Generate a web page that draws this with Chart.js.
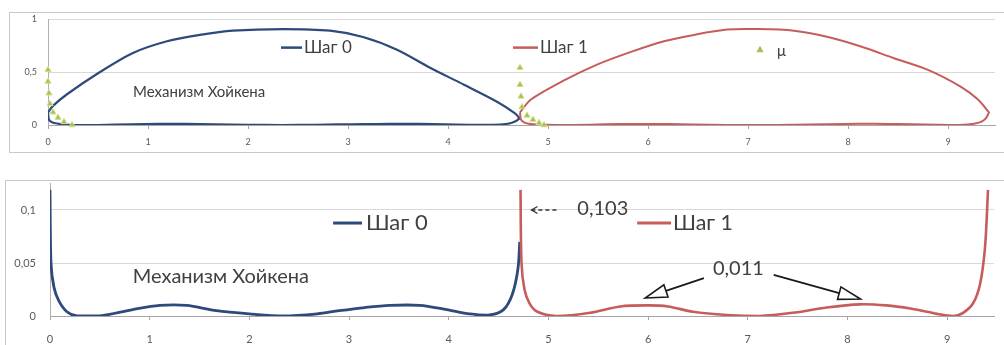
<!DOCTYPE html>
<html>
<head>
<meta charset="utf-8">
<script src="https://cdn.jsdelivr.net/npm/chart.js@4.4.1/dist/chart.umd.min.js"></script>
<style>
  html, body { margin:0; padding:0; background:#fff; width:1004px; height:345px; overflow:hidden; }
  .frame { position:absolute; border:1px solid #c9c9c9; background:#fff; }
  .box { position:absolute; left:0; top:0; }
</style>
</head>
<body>
<div class="frame" style="left:9px; top:12px; width:1000px; height:139px;">
  <div class="box" style="width:994px; height:139px;"><canvas id="c1"></canvas></div>
</div>
<div class="frame" style="left:5px; top:180px; width:1005px; height:170px;">
  <div class="box" style="width:998px; height:164px;"><canvas id="c2"></canvas></div>
</div>
<script>
// ---------- DATA ----------
const seriesNames = ['Шаг 0', 'Шаг 1', 'μ'];
const xTickValues = [0, 1, 2, 3, 4, 5, 6, 7, 8, 9];
const topYTickValues = [0, 0.5, 1];
const topYTickLabels = ['0', '0,5', '1'];
const bottomYTickValues = [0, 0.05, 0.1];
const bottomYTickLabels = ['0', '0,05', '0,1'];

// Lower chart (also the lower branch of each loop in the upper chart)
const step0LowX = [0.00, 0.01, 0.04, 0.09, 0.17, 0.27, 0.50, 0.83, 1.10, 1.37, 1.67, 2.00, 2.34, 2.68, 2.90, 3.16, 3.41, 3.71, 3.98, 4.21, 4.41, 4.55, 4.64, 4.695, 4.712];
const step0LowY = [0.119, 0.050, 0.027, 0.014, 0.004, 0.000, 0.000, 0.006, 0.010, 0.010, 0.005, 0.002, 0.000, 0.002, 0.005, 0.008, 0.010, 0.010, 0.006, 0.002, 0.001, 0.006, 0.021, 0.045, 0.070];
const step1LowX = [4.72, 4.73, 4.76, 4.81, 4.89, 5.08, 5.42, 5.72, 6.00, 6.20, 6.45, 6.79, 7.12, 7.45, 7.79, 8.12, 8.39, 8.63, 8.90, 9.06, 9.16, 9.26, 9.33, 9.38, 9.41];
const step1LowY = [0.119, 0.050, 0.025, 0.012, 0.004, 0.000, 0.003, 0.009, 0.010, 0.009, 0.004, 0.001, 0.000, 0.003, 0.008, 0.011, 0.010, 0.007, 0.002, 0.000, 0.003, 0.012, 0.030, 0.065, 0.119];

// Upper branch of each loop (upper chart)
const step0UpX = [0.00, 0.05, 0.19, 0.52, 0.85, 1.19, 1.52, 1.85, 2.35, 2.82, 3.15, 3.49, 3.82, 4.16, 4.49, 4.67, 4.72];
const step0UpY = [0.119, 0.18, 0.29, 0.50, 0.68, 0.79, 0.85, 0.89, 0.905, 0.89, 0.83, 0.71, 0.54, 0.38, 0.22, 0.11, 0.06];
const step1UpX = [4.72, 4.83, 5.16, 5.49, 5.83, 6.16, 6.46, 6.79, 7.06, 7.46, 7.80, 8.13, 8.46, 8.80, 9.13, 9.30, 9.41];
const step1UpY = [0.119, 0.24, 0.42, 0.57, 0.69, 0.79, 0.85, 0.90, 0.905, 0.89, 0.83, 0.74, 0.63, 0.52, 0.36, 0.24, 0.119];

// μ markers (upper chart)
const muX = [0.00, 0.00, 0.01, 0.02, 0.05, 0.10, 0.16, 0.24, 4.72, 4.72, 4.73, 4.74, 4.79, 4.85, 4.91, 4.96];
const muY = [0.52, 0.41, 0.30, 0.20, 0.12, 0.07, 0.03, 0.00, 0.54, 0.38, 0.27, 0.17, 0.09, 0.05, 0.02, 0.00];

// ---------- HELPERS ----------
const FONT = 'Lato, "Liberation Sans", sans-serif';
const BLUE = '#2e4a7a', RED = '#c65c5c', GREEN = '#a5c05a', TXT = '#404040', TICK = '#595959';
const pts = (xs, ys) => xs.map((x, i) => ({x, y: ys[i]}));
const rev = a => a.slice().reverse();
const loop = (ux, uy, lx, ly) => pts(ux.concat(rev(lx)), uy.concat(rev(ly)));

function setFont(ctx, it) {
  let size = it.size;
  ctx.font = `${size}px ${FONT}`;
  if (it.width) {
    const w = ctx.measureText(it.text).width;
    size = Math.min(size * it.width / w, it.maxSize || 99);
    ctx.font = `${size}px ${FONT}`;
  }
}

const overlay = {
  id: 'overlay',
  afterDatasetsDraw(chart, args, opts) {
    const ctx = chart.ctx, sx = chart.scales.x, sy = chart.scales.y;
    const X = v => sx.getPixelForValue(v), Y = v => sy.getPixelForValue(v);
    ctx.save();
    for (const it of (opts.items || [])) {
      if (it.type === 'text') {
        setFont(ctx, it);
        ctx.fillStyle = it.color || TXT;
        ctx.textAlign = 'left';
        ctx.textBaseline = 'middle';
        ctx.fillText(it.text, X(it.x), Y(it.y));
      } else if (it.type === 'line') {
        ctx.strokeStyle = it.color; ctx.lineWidth = it.lw;
        ctx.beginPath(); ctx.moveTo(X(it.x1), Y(it.y)); ctx.lineTo(X(it.x2), Y(it.y)); ctx.stroke();
      } else if (it.type === 'tri') {
        const cx = X(it.x), cy = Y(it.y), r = it.r;
        ctx.fillStyle = it.color;
        ctx.beginPath(); ctx.moveTo(cx, cy - r); ctx.lineTo(cx + r * 0.9, cy + r * 0.6); ctx.lineTo(cx - r * 0.9, cy + r * 0.6); ctx.closePath(); ctx.fill();
      } else if (it.type === 'arrow') {
        const x1 = X(it.x1), y1 = Y(it.y1), x2 = X(it.x2), y2 = Y(it.y2);
        const a = Math.atan2(y2 - y1, x2 - x1), L = it.head, W = it.headW;
        const bx = x2 - L * Math.cos(a), by = y2 - L * Math.sin(a);
        ctx.strokeStyle = '#1a1a1a'; ctx.lineWidth = it.lw;
        ctx.beginPath(); ctx.moveTo(x1, y1); ctx.lineTo(bx, by); ctx.stroke();
        ctx.beginPath();
        ctx.moveTo(x2, y2);
        ctx.lineTo(bx + W / 2 * Math.sin(a), by - W / 2 * Math.cos(a));
        ctx.lineTo(bx - W / 2 * Math.sin(a), by + W / 2 * Math.cos(a));
        ctx.closePath();
        ctx.fillStyle = '#fff'; ctx.fill(); ctx.lineWidth = 1.6; ctx.stroke();
      } else if (it.type === 'dashArrow') {
        const x1 = X(it.x1), y1 = Y(it.y), x2 = X(it.x2);
        ctx.strokeStyle = '#333'; ctx.lineWidth = 1.3;
        ctx.setLineDash([4, 3]);
        ctx.beginPath(); ctx.moveTo(x1, y1); ctx.lineTo(x2, y1); ctx.stroke();
        ctx.setLineDash([]);
        ctx.beginPath(); ctx.moveTo(x2 + 6, y1 - 3.5); ctx.lineTo(x2, y1); ctx.lineTo(x2 + 6, y1 + 3.5); ctx.stroke();
      }
    }
    ctx.restore();
  }
};

function zeroPad(s) { s.paddingTop = 0; s.paddingBottom = 0; s.paddingLeft = 0; s.paddingRight = 0; }

function makeScales(cfg) {
  return {
    x: {
      type: 'linear', min: 0, max: 9.47,
      afterBuildTicks: s => { s.ticks = xTickValues.map(v => ({value: v})); },
      afterFit: s => { s.height = cfg.xh; zeroPad(s); },
      grid: { drawOnChartArea: false, color: '#a6a6a6', tickLength: 4 },
      border: { color: '#a6a6a6', width: 1 },
      ticks: { padding: cfg.xpad, color: TICK, font: { family: FONT, size: cfg.fs }, maxRotation: 0, callback: v => String(v) }
    },
    y: {
      type: 'linear', min: 0, max: cfg.ymax,
      afterBuildTicks: s => { s.ticks = cfg.yv.map(v => ({value: v})); },
      afterFit: s => { s.width = cfg.yw; zeroPad(s); },
      grid: { color: '#d9d9d9', drawTicks: false },
      border: { color: '#b0b0b0', width: 1 },
      ticks: { padding: cfg.ypad, color: TICK, font: { family: FONT, size: cfg.fs },
               callback: v => cfg.yl[cfg.yv.indexOf(v)] ?? '' }
    }
  };
}

const common = {
  responsive: true, maintainAspectRatio: false, animation: false,
  elements: { point: { radius: 0 } },
  plugins: { legend: { display: false }, tooltip: { enabled: false } }
};

// ---------- TOP CHART ----------
new Chart(document.getElementById('c1'), {
  type: 'scatter',
  data: {
    datasets: [
      { label: seriesNames[2], data: pts(muX, muY), showLine: false, pointStyle: 'triangle', pointRadius: 3.6,
        backgroundColor: GREEN, borderColor: '#d3e28f', borderWidth: 1, order: 0, clip: false },
      { label: seriesNames[1], data: loop(step1UpX, step1UpY, step1LowX, step1LowY), showLine: true,
        borderColor: RED, borderWidth: 2, tension: 0.3, pointRadius: 0, order: 1 },
      { label: seriesNames[0], data: loop(step0UpX, step0UpY, step0LowX, step0LowY), showLine: true,
        borderColor: BLUE, borderWidth: 2.2, tension: 0.3, pointRadius: 0, order: 2 }
    ]
  },
  options: Object.assign({}, common, {
    layout: { padding: { top: 6, right: 9, left: 0, bottom: 0 } },
    scales: makeScales({ xh: 27, xpad: 8, fs: 9, ymax: 1, yv: topYTickValues, yl: topYTickLabels, yw: 38, ypad: 11 }),
    plugins: Object.assign({}, common.plugins, {
      overlay: { items: [
        { type: 'line', x1: 2.33, x2: 2.54, y: 0.73, color: BLUE, lw: 2.5 },
        { type: 'text', text: seriesNames[0], x: 2.56, y: 0.73, size: 16, width: 55, maxSize: 17 },
        { type: 'line', x1: 4.65, x2: 4.90, y: 0.73, color: RED, lw: 2.5 },
        { type: 'text', text: seriesNames[1], x: 4.92, y: 0.73, size: 16, width: 53, maxSize: 17 },
        { type: 'tri', x: 7.12, y: 0.71, r: 4, color: GREEN },
        { type: 'text', text: seriesNames[2], x: 7.29, y: 0.70, size: 15 },
        { type: 'text', text: 'Механизм Хойкена', x: 0.85, y: 0.31, size: 14, width: 152, maxSize: 15 }
      ] }
    })
  }),
  plugins: [overlay]
});

// ---------- BOTTOM CHART ----------
new Chart(document.getElementById('c2'), {
  type: 'scatter',
  data: {
    datasets: [
      { label: seriesNames[1], data: pts(step1LowX, step1LowY), showLine: true,
        borderColor: RED, borderWidth: 2.6, tension: 0.3, pointRadius: 0, order: 1 },
      { label: seriesNames[0], data: pts(step0LowX, step0LowY), showLine: true,
        borderColor: BLUE, borderWidth: 2.8, tension: 0.3, pointRadius: 0, order: 2 }
    ]
  },
  options: Object.assign({}, common, {
    layout: { padding: { top: 2.5, right: 10, left: 0, bottom: 0 } },
    scales: makeScales({ xh: 29, xpad: 13, fs: 11, ymax: 0.125, yv: bottomYTickValues, yl: bottomYTickLabels, yw: 44, ypad: 14 }),
    plugins: Object.assign({}, common.plugins, {
      overlay: { items: [
        { type: 'line', x1: 2.84, x2: 3.13, y: 0.0877, color: BLUE, lw: 3 },
        { type: 'text', text: seriesNames[0], x: 3.17, y: 0.0877, size: 21, width: 62, maxSize: 22 },
        { type: 'line', x1: 5.89, x2: 6.23, y: 0.0877, color: RED, lw: 3 },
        { type: 'text', text: seriesNames[1], x: 6.25, y: 0.0877, size: 21, width: 60, maxSize: 22 },
        { type: 'text', text: '0,103', x: 5.29, y: 0.101, size: 20, width: 51, maxSize: 22 },
        { type: 'dashArrow', x1: 5.08, x2: 4.83, y: 0.100 },
        { type: 'text', text: 'Механизм Хойкена', x: 0.83, y: 0.0368, size: 18, width: 182, maxSize: 20 },
        { type: 'text', text: '0,011', x: 6.65, y: 0.0445, size: 18, width: 54, maxSize: 20 },
        { type: 'arrow', x1: 6.56, y1: 0.0358, x2: 5.97, y2: 0.017, head: 22, headW: 13, lw: 1.8 },
        { type: 'arrow', x1: 7.26, y1: 0.0387, x2: 8.13, y2: 0.016, head: 22, headW: 13, lw: 1.8 }
      ] }
    })
  }),
  plugins: [overlay]
});
</script>
</body>
</html>
